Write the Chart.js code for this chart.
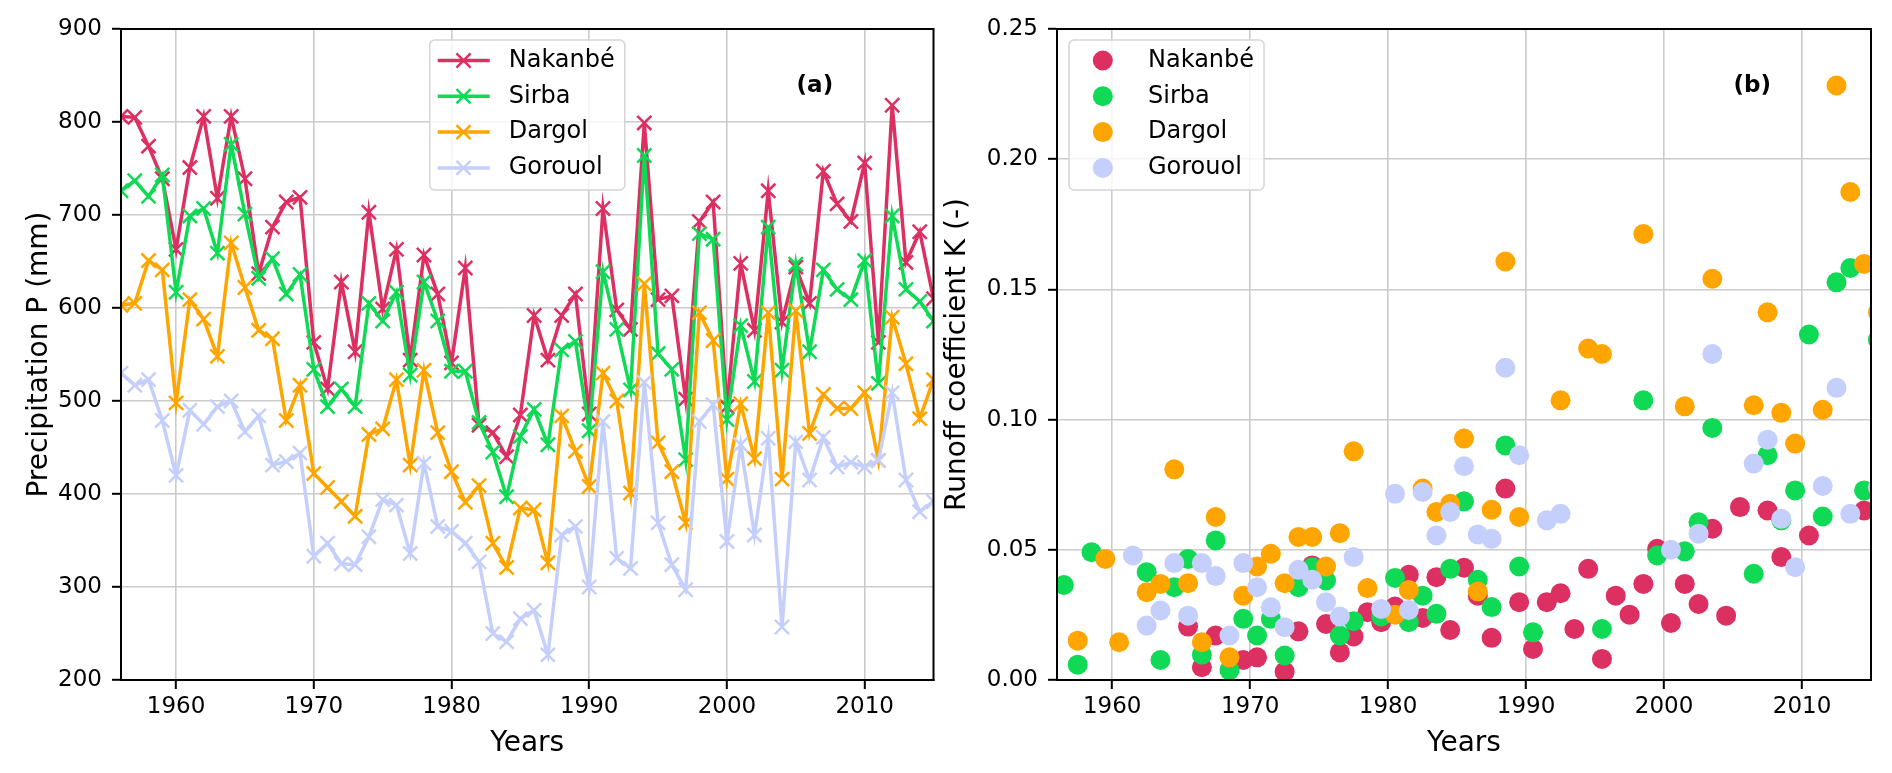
<!DOCTYPE html>
<html><head><meta charset="utf-8">
<script src="https://cdn.jsdelivr.net/npm/chart.js@4.4.1/dist/chart.umd.min.js"></script>
<style>
html,body{margin:0;padding:0;background:#fff;}
#wrap{position:relative;width:1892px;height:773px;overflow:hidden;background:#fff;}
canvas{position:absolute;top:0;}
</style></head><body>
<div id="wrap">
<canvas id="c1" width="946" height="773" style="left:0;width:946px;height:773px"></canvas>
<canvas id="c2" width="976" height="773" style="left:916px;width:976px;height:773px"></canvas>
</div>
<script>
// ---------- data ----------
const years = [1956,1957,1958,1959,1960,1961,1962,1963,1964,1965,1966,1967,1968,1969,1970,1971,1972,1973,1974,1975,
  1976,1977,1978,1979,1980,1981,1982,1983,1984,1985,1986,1987,1988,1989,1990,1991,1992,1993,1994,1995,
  1996,1997,1998,1999,2000,2001,2002,2003,2004,2005,2006,2007,2008,2009,2010,2011,2012,2013,2014,2015];
const basins = ['Nakanbé','Sirba','Dargol','Gorouol'];
const colors = ['#dc2f62','#10d955','#ffa500','#c5cffc'];

// Precipitation P (mm)
const nakanbeP = [806,805,774,739,663,751,806,718,806,739,637,687,714,719,563,513,628,553,703,599,
  663,544,657,615,541,643,474,466,440,485,592,544,592,615,486,707,598,577,799,609,
  613,502,693,714,494,648,576,726,585,644,605,747,712,693,756,563,818,649,682,610];
const sirbaP = [726,737,720,743,617,699,707,659,776,701,632,653,615,636,534,494,513,494,605,586,
  617,528,628,586,532,532,477,445,397,462,491,453,555,564,468,639,577,512,764,551,
  534,437,680,674,480,581,521,687,533,647,553,641,620,609,651,519,699,620,607,586];
const dargolP = [603,605,651,641,498,609,588,548,670,622,576,567,479,517,422,407,392,376,464,470,
  523,431,533,466,424,391,409,347,321,385,383,326,484,446,408,530,500,401,626,455,
  424,369,595,565,416,497,438,595,416,597,465,507,492,492,509,436,590,540,481,523];
const gorouolP = [530,517,523,479,420,490,475,494,500,467,484,431,435,444,333,347,325,324,354,394,
  388,336,433,365,360,347,327,250,241,266,275,227,356,365,300,478,331,320,520,369,
  324,297,478,496,349,453,356,460,257,456,415,461,429,434,429,436,509,415,381,392];

// Runoff coefficient K (-), plotted at mid-year
const nakanbeK = [null,null,null,null,null,null,null,null,null,0.0205,0.0049,0.0171,null,0.0077,0.0087,null,0.0032,0.0187,0.044,0.0215,
  0.0106,0.0167,0.026,0.0222,0.0282,0.0404,0.0238,0.0395,0.0192,0.0431,0.0324,0.0162,0.0735,0.0299,0.0119,0.0299,0.0333,0.0196,0.0427,0.0081,
  0.0324,0.0251,0.0369,0.0504,0.0219,0.0369,0.0292,0.0581,0.0247,0.0664,null,0.0651,0.0472,null,0.0555,null,null,null,0.0651,null];
const sirbaK = [0.0365,0.0059,0.0491,null,null,null,0.0414,0.0077,0.0356,0.0465,0.0097,0.0536,0.0038,0.0235,0.0171,0.0235,0.0094,0.0356,0.0433,0.0382,
  0.0171,0.0226,null,0.0244,0.0392,0.0222,0.0324,0.0254,0.0427,0.0686,0.0385,0.028,0.0901,0.0436,0.0183,null,null,null,null,0.0196,
  null,null,0.1074,0.0478,null,0.0494,0.0606,0.0968,null,null,0.0408,0.0863,0.0613,0.0728,0.1327,0.0628,0.1527,0.1582,0.0728,0.1307];
const dargolK = [null,0.0151,null,0.0465,0.0145,null,0.0337,0.0369,0.0809,0.0372,0.0145,0.0626,0.0087,0.0324,0.0436,0.0485,0.0372,0.0549,0.0549,0.0436,
  0.0564,0.0878,0.0353,null,0.0251,0.0346,0.0735,0.0645,0.0677,0.0927,0.034,0.0654,0.1607,0.0626,null,null,0.1074,null,0.1273,0.1252,
  null,null,0.1713,null,null,0.1051,null,0.1541,null,null,0.1055,0.1412,0.1026,0.0908,null,0.1038,0.2283,0.1874,0.1598,0.1412];
const gorouolK = [null,null,null,null,null,0.0478,0.0209,0.0267,0.0449,0.0247,0.0449,0.0399,0.0171,0.0449,0.0356,0.0279,0.0203,0.0423,0.0385,0.0299,
  0.0244,0.0472,null,0.0273,0.0715,0.0269,0.0722,0.0555,0.0645,0.0821,0.0559,0.0542,0.1199,0.0863,null,0.0613,0.0638,null,null,null,
  null,null,null,null,0.05,null,0.0562,0.1252,null,null,0.0831,0.0923,0.0619,0.0433,null,0.0745,0.1122,0.0638,null,0.074];

const xTicks = [1960,1970,1980,1990,2000,2010];
const pTicks = [200,300,400,500,600,700,800,900];
const kTicks = [0.00,0.05,0.10,0.15,0.20,0.25];
const MID_YEAR = 0.5;

// ---------- helpers ----------
const FAM = "'DejaVu Sans', sans-serif";
const BLACK = '#000';
const GRID = '#cbcbcb';
const LINE_W = 3.5, MARK_R = 10, MARK_W = 2.5, DOT_R = 10;

function xScale() {
  return {
    type: 'linear', min: 1956, max: 2015,
    afterBuildTicks: s => { s.ticks = xTicks.map(v => ({value: v})); },
    ticks: { color: BLACK, font: {family: FAM, size: 23}, padding: 4, maxRotation: 0, autoSkip: false,
             callback: v => String(v) },
    grid: { color: GRID, lineWidth: 1.6, tickColor: BLACK, tickWidth: 2, tickLength: 9 },
    border: { display: true, color: BLACK, width: 2 },
    title: { display: true, text: 'Years', color: BLACK, font: {family: FAM, size: 28}, padding: {top: 0, bottom: 12} },
    afterFit: s => { s.height = 93; }
  };
}
function yScale(min, max, tickVals, fmt, title, width, titlePad) {
  return {
    type: 'linear', min, max,
    afterBuildTicks: s => { s.ticks = tickVals.map(v => ({value: v})); },
    ticks: { color: BLACK, font: {family: FAM, size: 23}, padding: 10, callback: fmt },
    grid: { color: GRID, lineWidth: 1.6, tickColor: BLACK, tickWidth: 2, tickLength: 9 },
    border: { display: true, color: BLACK, width: 2 },
    title: { display: true, text: title, color: BLACK, font: {family: FAM, size: 28}, padding: {top: titlePad, bottom: 0} },
    afterFit: s => { s.width = width; }
  };
}

function panelPlugin(cfg) {
  return {
    id: 'panel' + cfg.id,
    afterDraw(chart) {
      const {ctx, chartArea: a} = chart;
      ctx.save();
      ctx.strokeStyle = BLACK; ctx.lineWidth = 2;
      ctx.strokeRect(a.left, a.top, a.right - a.left, a.bottom - a.top);
      // panel tag
      ctx.fillStyle = BLACK; ctx.font = 'bold 23px ' + FAM;
      ctx.textAlign = 'center'; ctx.textBaseline = 'middle';
      ctx.fillText(cfg.tag, a.left + 0.854 * (a.right - a.left), a.top + 0.0876 * (a.bottom - a.top));
      // legend
      ctx.font = '24px ' + FAM;
      let tw = 0;
      basins.forEach(b => { tw = Math.max(tw, ctx.measureText(b).width); });
      const w = 79 + tw + 10, h = 150;
      const L = cfg.legendCenter ? (a.left + a.right) / 2 - w / 2 : a.left + 12;
      const T = a.top + 11;
      ctx.beginPath();
      ctx.roundRect(L, T, w, h, 5);
      ctx.fillStyle = 'rgba(255,255,255,0.8)'; ctx.fill();
      ctx.strokeStyle = '#d5d5d5'; ctx.lineWidth = 1.5; ctx.stroke();
      basins.forEach((b, i) => {
        const y = T + 20.5 + i * 35.8;
        const hx = L + 33.8;
        ctx.strokeStyle = colors[i]; ctx.fillStyle = colors[i];
        if (cfg.lines) {
          ctx.lineWidth = LINE_W;
          ctx.beginPath(); ctx.moveTo(L + 8, y); ctx.lineTo(L + 60, y); ctx.stroke();
          ctx.lineWidth = MARK_W;
          Chart.helpers.drawPoint(ctx, {pointStyle: 'crossRot', radius: MARK_R, rotation: 0, borderWidth: MARK_W}, hx, y);
        } else {
          ctx.beginPath(); ctx.arc(hx, y, DOT_R, 0, Math.PI * 2); ctx.fill();
        }
        ctx.fillStyle = BLACK; ctx.textAlign = 'left'; ctx.textBaseline = 'middle';
        ctx.fillText(b, L + 79, y);
      });
      ctx.restore();
    }
  };
}

const common = {
  responsive: false, animation: false, events: [],
  plugins: { legend: {display: false}, tooltip: {enabled: false} }
};

// ---------- panel (a) ----------
const pSeries = [nakanbeP, sirbaP, dargolP, gorouolP];
new Chart(document.getElementById('c1'), {
  type: 'line',
  data: {
    datasets: pSeries.map((vals, i) => ({
      label: basins[i],
      data: years.map((yr, j) => ({x: yr, y: vals[j]})),
      borderColor: colors[i], backgroundColor: colors[i],
      borderWidth: LINE_W, tension: 0,
      pointStyle: 'crossRot', pointRadius: MARK_R, pointHoverRadius: MARK_R,
      pointBorderWidth: MARK_W, pointBorderColor: colors[i],
      order: 4 - i, clip: 0
    }))
  },
  options: Object.assign({}, common, {
    layout: { padding: {left: 0, top: 29, right: 11, bottom: 0} },
    scales: {
      x: xScale(),
      y: yScale(200, 900, pTicks, v => String(v), 'Precipitation P (mm)', 121, 23)
    }
  }),
  plugins: [panelPlugin({id: 'a', tag: '(a)', legendCenter: true, lines: true})]
});

// ---------- panel (b) ----------
const kSeries = [nakanbeK, sirbaK, dargolK, gorouolK];
new Chart(document.getElementById('c2'), {
  type: 'scatter',
  data: {
    datasets: kSeries.map((vals, i) => ({
      label: basins[i],
      data: years.map((yr, j) => ({x: yr + MID_YEAR, y: vals[j]})).filter(p => p.y !== null),
      backgroundColor: colors[i], borderColor: colors[i], borderWidth: 0,
      pointRadius: DOT_R, pointHoverRadius: DOT_R, pointBorderWidth: 0,
      order: 4 - i, clip: 0
    }))
  },
  options: Object.assign({}, common, {
    layout: { padding: {left: 0, top: 29, right: 21, bottom: 0} },
    scales: {
      x: xScale(),
      y: yScale(0, 0.25, kTicks, v => v.toFixed(2), 'Runoff coefficient K (-)', 141, 25)
    }
  }),
  plugins: [panelPlugin({id: 'b', tag: '(b)', legendCenter: false, lines: false})]
});
</script>
</body></html>
